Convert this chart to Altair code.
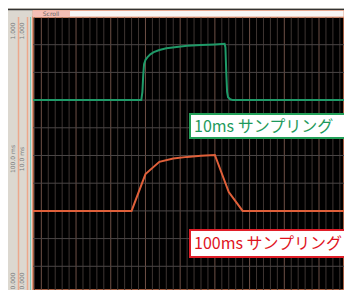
import altair as alt
import pandas as pd

# ---- data (time in ms, level in divisions) ----
x_domain = [-60, 2180]
y_domain = [0.144, 10]

green_t = [-60, 720, 728, 734, 740, 750, 765, 785, 810, 850, 900, 975, 1050,
           1150, 1250, 1320, 1326, 1332, 1338, 1345, 1360, 1380, 2180]
green_v = [7.0, 7.0, 7.3, 7.9, 8.3, 8.45, 8.55, 8.65, 8.73, 8.81, 8.87, 8.92,
           8.96, 8.99, 9.01, 9.03, 8.9, 8.0, 7.3, 7.1, 7.03, 7.0, 7.0]

red_t = [-60, 650, 750, 850, 950, 1050, 1150, 1250, 1350, 1450, 2180]
red_v = [3.0, 3.0, 4.33, 4.77, 4.89, 4.95, 4.99, 5.02, 3.68, 3.0, 3.0]

minor_x = [t for t in range(-50, 2180, 50) if t % 250 != 0]
major_x = [t for t in range(0, 2180, 250)]
grid_y = [1, 2, 3, 4, 5, 6, 7, 8, 9]

label_green = "10ms サンプリング"
label_red = "100ms サンプリング"
tab_text = "Scroll"

W, H = 311, 273

xs = alt.Scale(domain=x_domain, nice=False, zero=False)
ys = alt.Scale(domain=y_domain, nice=False, zero=False)

one = pd.DataFrame({"a": [0]})

minor = alt.Chart(pd.DataFrame({"t": minor_x})).mark_rule(
    color="#3e3532", strokeWidth=1).encode(
    x=alt.X("t:Q", scale=xs, axis=None))
major = alt.Chart(pd.DataFrame({"t": major_x})).mark_rule(
    color="#6e5046", strokeWidth=1).encode(
    x=alt.X("t:Q", scale=xs, axis=None))
hgrid = alt.Chart(pd.DataFrame({"v": grid_y})).mark_rule(
    color="#4a4646", strokeWidth=1).encode(
    y=alt.Y("v:Q", scale=ys, axis=None))

green = alt.Chart(pd.DataFrame({"t": green_t, "v": green_v})).mark_line(
    color="#1f9a68", strokeWidth=2, clip=True).encode(
    x=alt.X("t:Q", scale=xs, axis=None),
    y=alt.Y("v:Q", scale=ys, axis=None))
red = alt.Chart(pd.DataFrame({"t": red_t, "v": red_v})).mark_line(
    color="#e0603a", strokeWidth=2, clip=True).encode(
    x=alt.X("t:Q", scale=xs, axis=None),
    y=alt.Y("v:Q", scale=ys, axis=None))

# ---- window decorations ----
top_line = alt.Chart(one).mark_rule(color="#333333", strokeWidth=1.5).encode(
    x=alt.value(-25), x2=alt.value(W), y=alt.value(-7.5))
top_bar = alt.Chart(one).mark_rect(color="#f7f5f4", stroke="#e8a890",
                                   strokeWidth=1).encode(
    x=alt.value(0), x2=alt.value(W), y=alt.value(-6.5), y2=alt.value(0))
tab = alt.Chart(one).mark_rect(color="#f4bfb6").encode(
    x=alt.value(0), x2=alt.value(37), y=alt.value(-6.5), y2=alt.value(0))
tab_lbl = alt.Chart(one).mark_text(text=tab_text, fontSize=6, color="#666666",
                                   font="DejaVu Sans").encode(
    x=alt.value(18), y=alt.value(-3))

lane1 = alt.Chart(one).mark_rule(color="#eca88c", strokeWidth=1.5).encode(
    x=alt.value(-14.5), y=alt.value(0), y2=alt.value(H))
lane2 = alt.Chart(one).mark_rule(color="#eca88c", strokeWidth=1.5).encode(
    x=alt.value(-5.5), y=alt.value(0), y2=alt.value(H))
lane3 = alt.Chart(one).mark_rule(color="#80c8b6", strokeWidth=1).encode(
    x=alt.value(-2.5), y=alt.value(0), y2=alt.value(H))

side_df = pd.DataFrame({
    "txt": ["1.000", "1.000", "100.0 ms", "10.0 ms", "0.000", "0.000"],
    "px": [-20, -11, -20, -11, -20, -11],
    "py": [14, 14, 142, 142, 264, 264],
})
side = alt.Chart(side_df).mark_text(fontSize=6, color="#7a7a7a", angle=270,
                                    font="DejaVu Sans").encode(
    text="txt:N", x=alt.X("px:Q", scale=None), y=alt.Y("py:Q", scale=None))

# ---- callout boxes ----
gbox = alt.Chart(one).mark_rect(fill="white", stroke="#22a058",
                                strokeWidth=2).encode(
    x=alt.value(157), x2=alt.value(340), y=alt.value(97), y2=alt.value(121))
gtxt = alt.Chart(one).mark_text(text=label_green, fontSize=16, color="#1e9a5c",
                                align="left", baseline="middle",
                                font="Noto Sans CJK JP").encode(
    x=alt.value(161), y=alt.value(109.5))
rbox = alt.Chart(one).mark_rect(fill="white", stroke="#e01e28",
                                strokeWidth=2).encode(
    x=alt.value(157), x2=alt.value(340), y=alt.value(213), y2=alt.value(240))
rtxt = alt.Chart(one).mark_text(text=label_red, fontSize=16, color="#e0141e",
                                align="left", baseline="middle",
                                font="Noto Sans CJK JP").encode(
    x=alt.value(161), y=alt.value(227))

chart = alt.layer(
    minor, major, hgrid, green, red,
    top_line, top_bar, tab, tab_lbl, lane1, lane2, lane3, side,
    gbox, gtxt, rbox, rtxt,
).properties(
    width=W, height=H,
    padding={"left": 25, "top": 9, "right": 0, "bottom": 0},
    autosize=alt.AutoSizeParams(type="none"),
    background="#dcd8d0",
).configure_view(
    fill="black", stroke="#e0805a", strokeWidth=1.5,
)

chart.save("out.html", embed_options={"renderer": "svg", "actions": False})
